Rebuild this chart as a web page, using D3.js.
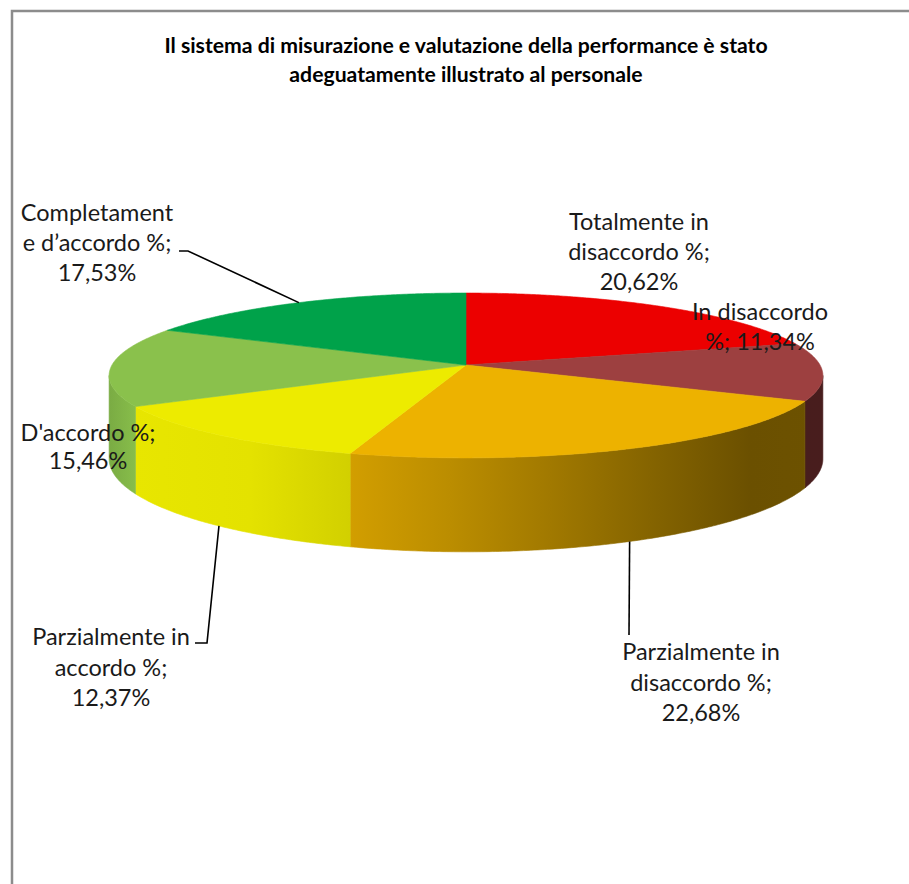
<!DOCTYPE html>
<html><head><meta charset="utf-8">
<script src="https://cdn.jsdelivr.net/npm/d3@7"></script>
<style>html,body{margin:0;padding:0;background:#fff;}svg{display:block;}</style>
</head><body>
<script>
// ---- data ----
const title = ["Il sistema di misurazione e valutazione della performance è stato", "adeguatamente illustrato al personale"];
const categories = ["Totalmente in disaccordo %", "In disaccordo %", "Parzialmente in disaccordo %", "Parzialmente in accordo %", "D'accordo %", "Completamente d’accordo %"];
const values = [20.62, 11.34, 22.68, 12.37, 15.46, 17.53];
const labelLines = [
  ["Totalmente in", "disaccordo %;", "{v}"],
  ["In disaccordo", "%; {v}"],
  ["Parzialmente in", "disaccordo %;", "{v}"],
  ["Parzialmente in", "accordo %;", "{v}"],
  ["D'accordo %;", "{v}"],
  ["Completament", "e d’accordo %;", "{v}"]
];
const colors = ["#EC0000", "#9D4040", "#EDB200", "#EDEB00", "#8AC14C", "#00A24A"];

// ---- layout ----
const W = 909, H = 884;
const cx = 466, cy = 365, sx = 354, sy = 81.1, g = 0.127, depth = 82;
const labelLayout = [
  {x: 639, y: 222, lh: 30},
  {x: 760, y: 312, lh: 30},
  {x: 701, y: 652, lh: 30.5},
  {x: 111, y: 637, lh: 30.5},
  {x: 88,  y: 433, lh: 28},
  {x: 97,  y: 213, lh: 30}
];
const leaders = [
  null, null,
  {h: depth, pts: [[629, 635]]},
  {h: depth, pts: [[207, 643], [195, 643]]},
  null,
  {h: 0, pts: [[188, 251], [179, 251]]}
];
const fontSize = 23.5;

const loc = d3.formatLocale({decimal: ",", thousands: ".", grouping: [3], currency: ["", "€"]});
const fmt = v => loc.format(".2f")(v) + "%";

function P(theta, h) {
  const u = Math.sin(theta), v = Math.cos(theta), w = 1 + g * v;
  return [cx + sx * u / w, cy + (-sy * v + h) / w];
}
function arcPts(a, b, h) {
  const n = Math.max(2, Math.ceil(Math.abs(b - a) / (Math.PI / 360)));
  return d3.range(n + 1).map(i => P(a + (b - a) * i / n, h));
}

const svg = d3.select("body").append("svg").attr("width", W).attr("height", H);
svg.append("rect").attr("width", W).attr("height", H).attr("fill", "#fff");
// frame
svg.append("rect").attr("x", 12).attr("y", 11).attr("width", 1000).attr("height", 1000)
  .attr("fill", "none").attr("stroke", "#8c8c8c").attr("stroke-width", 2.5);

// title
svg.append("g").selectAll("text").data(title).join("text")
  .attr("x", 466).attr("y", (d, i) => 52.5 + i * 29)
  .attr("text-anchor", "middle")
  .style("font-family", "Lato, 'Open Sans', sans-serif").style("font-weight", "bold")
  .style("font-size", "21.2px").attr("fill", "#000").text(d => d);

const pie = d3.pie().sort(null).value(d => d).startAngle(0).endAngle(2 * Math.PI);
const arcs = pie(values);

// side gradients
const defs = svg.append("defs");
const shade = [[107, 0.88], [135, 0.98], [250, 0.96], [350, 0.885], [450, 0.79], [550, 0.68], [650, 0.56], [750, 0.45], [825, 0.46]];
colors.forEach((c, i) => {
  const gr = defs.append("linearGradient").attr("id", "side" + i)
    .attr("gradientUnits", "userSpaceOnUse").attr("x1", 107).attr("x2", 825).attr("y1", 0).attr("y2", 0);
  const base = d3.rgb(c);
  shade.forEach(([x, f]) => {
    gr.append("stop").attr("offset", (x - 107) / (825 - 107))
      .attr("stop-color", d3.rgb(base.r * f, base.g * f, base.b * f).formatHex());
  });
});

const line = d3.line();
const tL = Math.acos(-g), tR = 2 * Math.PI - tL;
const sides = svg.append("g");
arcs.forEach((d, i) => {
  const a = Math.max(d.startAngle, tL), b = Math.min(d.endAngle, tR);
  if (a < b) {
    const pts = arcPts(a, b, 0).concat(arcPts(b, a, depth));
    sides.append("path").attr("d", line(pts) + "Z").attr("fill", `url(#side${i})`)
      .attr("stroke", `url(#side${i})`).attr("stroke-width", 0.6);
  }
});
const tops = svg.append("g");
arcs.forEach((d, i) => {
  const pts = [[cx, cy]].concat(arcPts(d.startAngle, d.endAngle, 0));
  tops.append("path").attr("d", line(pts) + "Z").attr("fill", colors[i])
    .attr("stroke", colors[i]).attr("stroke-width", 0.6).attr("stroke-linejoin", "round");
});

// leader lines
arcs.forEach((d, i) => {
  const L = leaders[i];
  if (!L) return;
  const mid = (d.startAngle + d.endAngle) / 2;
  const pts = [P(mid, L.h)].concat(L.pts);
  svg.append("path").attr("d", line(pts)).attr("fill", "none").attr("stroke", "#000").attr("stroke-width", 1.6);
});

// labels
arcs.forEach((d, i) => {
  const lay = labelLayout[i];
  const t = svg.append("text").attr("text-anchor", "middle")
    .style("font-family", "Lato, 'Open Sans', sans-serif").style("font-size", fontSize + "px").attr("fill", "#1a1a1a");
  labelLines[i].forEach((s, j) => {
    t.append("tspan").attr("x", lay.x).attr("y", lay.y + j * lay.lh + fontSize * 0.35)
      .text(s.replace("{v}", fmt(values[i])));
  });
});
</script>
</body></html>
